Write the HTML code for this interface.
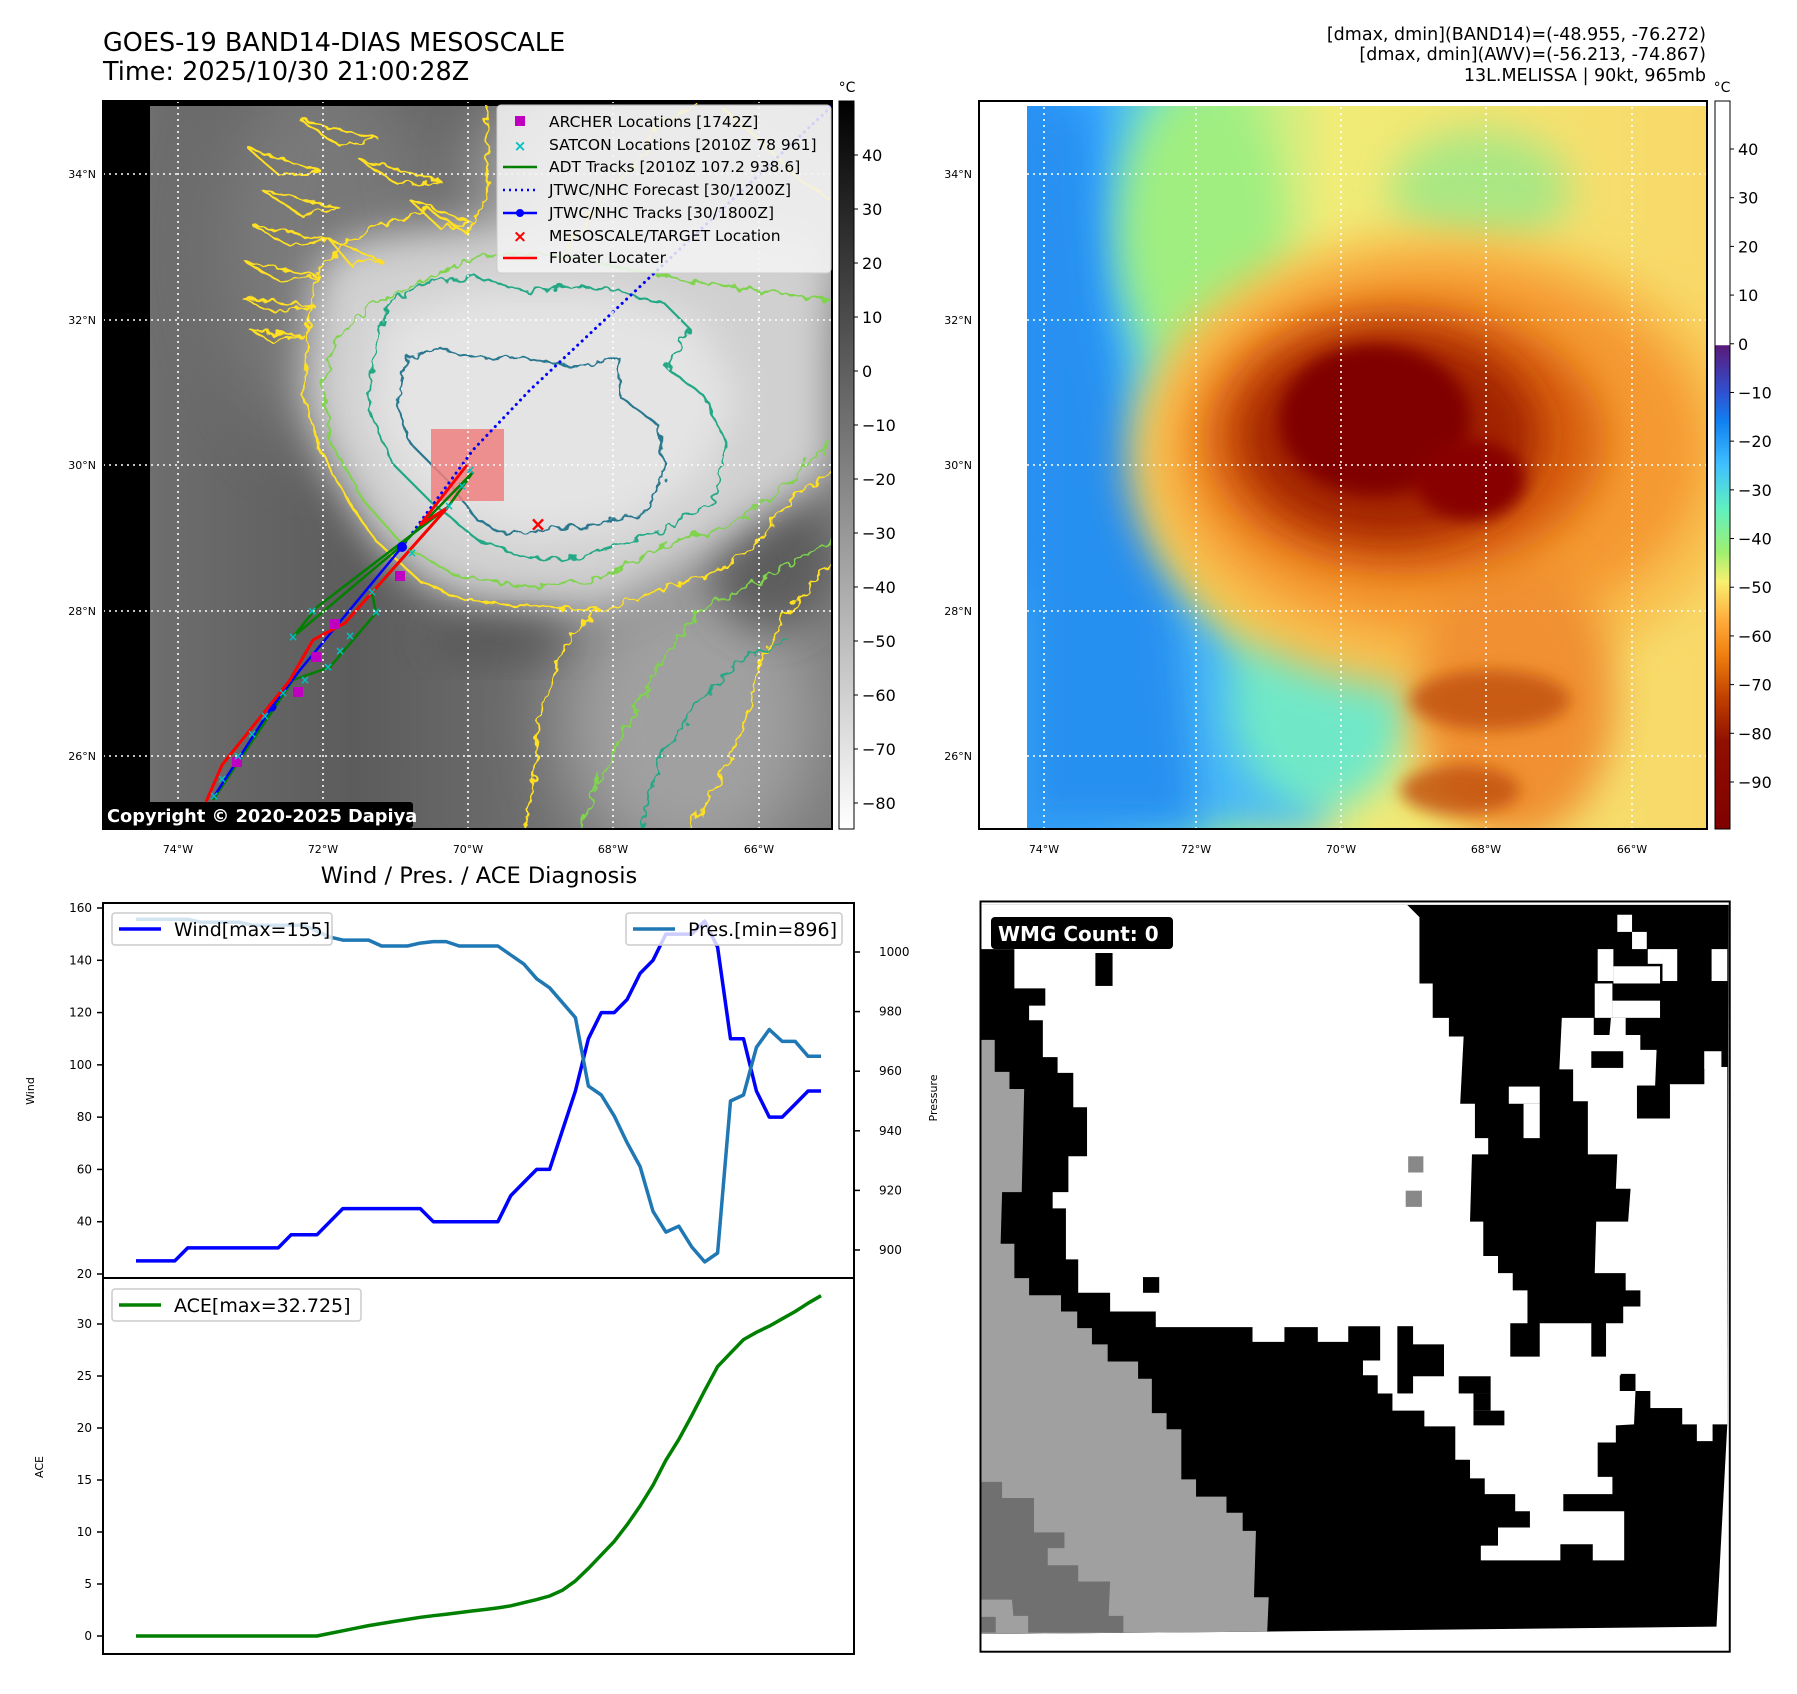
<!DOCTYPE html>
<html><head><meta charset="utf-8">
<style>
html,body{margin:0;padding:0;background:#fff;}
body{width:1797px;height:1690px;position:relative;overflow:hidden;font-family:"DejaVu Sans","Liberation Sans",sans-serif;}
svg text{font-family:"DejaVu Sans","Liberation Sans",sans-serif;}
</style></head><body>
<svg id="root" width="1797" height="1690" viewBox="0 0 1797 1690" xmlns="http://www.w3.org/2000/svg">
<defs>
  <filter id="wig" x="-20%" y="-20%" width="140%" height="140%">
    <feTurbulence type="fractalNoise" baseFrequency="0.09" numOctaves="2" seed="3"/>
    <feDisplacementMap in="SourceGraphic" scale="12"/>
  </filter>
  <filter id="blur8" x="-50%" y="-50%" width="200%" height="200%"><feGaussianBlur stdDeviation="8"/></filter>
  <filter id="blur20" x="-50%" y="-50%" width="200%" height="200%"><feGaussianBlur stdDeviation="20"/></filter>
  <filter id="blur35" x="-80%" y="-80%" width="260%" height="260%"><feGaussianBlur stdDeviation="35"/></filter>
  <filter id="tex" x="0" y="0" width="100%" height="100%">
    <feTurbulence type="fractalNoise" baseFrequency="0.02 0.08" numOctaves="3" seed="7"/>
    <feColorMatrix type="matrix" values="0 0 0 0 0.5  0 0 0 0 0.5  0 0 0 0 0.5  0 0 0 0.25 0"/>
  </filter>
  <linearGradient id="cbGray" x1="0" y1="0" x2="0" y2="1">
    <stop offset="0" stop-color="#000"/><stop offset="1" stop-color="#fff"/>
  </linearGradient>
  <linearGradient id="cbColor" x1="0" y1="101" x2="0" y2="829" gradientUnits="userSpaceOnUse">
    <stop offset="0" stop-color="#fff"/>
    <stop offset="0.335" stop-color="#fff"/>
    <stop offset="0.336" stop-color="#5a1a7a"/>
    <stop offset="0.40" stop-color="#3050d0"/>
    <stop offset="0.44" stop-color="#1080f0"/>
    <stop offset="0.50" stop-color="#40c0ff"/>
    <stop offset="0.56" stop-color="#60f0c0"/>
    <stop offset="0.62" stop-color="#a0f070"/>
    <stop offset="0.66" stop-color="#f8f070"/>
    <stop offset="0.71" stop-color="#ffb040"/>
    <stop offset="0.76" stop-color="#f08010"/>
    <stop offset="0.82" stop-color="#c04000"/>
    <stop offset="0.88" stop-color="#901000"/>
    <stop offset="1" stop-color="#800000"/>
  </linearGradient>
  <linearGradient id="irBase" x1="150" y1="0" x2="832" y2="0" gradientUnits="userSpaceOnUse">
    <stop offset="0" stop-color="#6e6e6e"/><stop offset="0.3" stop-color="#5c5c5c"/>
    <stop offset="0.6" stop-color="#707070"/><stop offset="1" stop-color="#7a7a7a"/>
  </linearGradient>
  <linearGradient id="rightBase" x1="1025" y1="0" x2="1707" y2="0" gradientUnits="userSpaceOnUse">
    <stop offset="0" stop-color="#2a90f8"/>
    <stop offset="0.1" stop-color="#38a8ff"/>
    <stop offset="0.2" stop-color="#70e0d0"/>
    <stop offset="0.3" stop-color="#a8f088"/>
    <stop offset="0.45" stop-color="#f0ec78"/>
    <stop offset="1" stop-color="#f8d868"/>
  </linearGradient>
  <clipPath id="clipL"><rect x="103" y="101" width="729" height="728"/></clipPath>
  <clipPath id="clipL2"><rect x="150" y="106" width="682" height="723"/></clipPath>
  <clipPath id="clipR"><rect x="979" y="101" width="728" height="728"/></clipPath>
  <clipPath id="clipR2"><rect x="1027" y="106" width="680" height="723"/></clipPath>
</defs>

<!-- Titles -->
<text x="103" y="51" font-size="25.5" fill="#000">GOES-19 BAND14-DIAS MESOSCALE</text>
<text x="103" y="80" font-size="25.5" fill="#000">Time: 2025/10/30 21:00:28Z</text>
<g font-size="17.5" text-anchor="end" fill="#000">
  <text x="1706" y="40">[dmax, dmin](BAND14)=(-48.955, -76.272)</text>
  <text x="1706" y="60">[dmax, dmin](AWV)=(-56.213, -74.867)</text>
  <text x="1706" y="81">13L.MELISSA | 90kt, 965mb</text>
</g>

<!-- LEFT MAP -->
<g>
  <g clip-path="url(#clipL)">
    <rect x="103" y="101" width="729" height="728" fill="#000"/>
    <g clip-path="url(#clipL2)">
      <rect x="150" y="106" width="682" height="723" fill="url(#irBase)"/>
      <ellipse cx="330" cy="250" rx="110" ry="200" fill="#8a8a8a" filter="url(#blur35)" opacity="0.6"/>
      <ellipse cx="700" cy="180" rx="220" ry="120" fill="#b4b4b4" filter="url(#blur35)"/>
      <ellipse cx="690" cy="720" rx="130" ry="150" fill="#a0a0a0" filter="url(#blur35)"/>
      <ellipse cx="770" cy="560" rx="60" ry="70" fill="#555" filter="url(#blur20)" opacity="0.8"/>
      <path d="M317,272 L308,329 L303,396 L322,453 L345,496 L374,539 L421,582 L468,601 L525,606 L600,610 L700,560 L790,500 L832,470 L832,240 L760,230 L640,215 L520,220 L420,230 L345,243 Z" fill="#d0d0d0" filter="url(#blur20)"/>
      <path d="M380,320 L370,420 L420,500 L520,540 L620,530 L700,480 L740,400 L700,320 L600,290 L480,290 Z" fill="#e4e4e4" filter="url(#blur20)"/>
      <rect x="150" y="106" width="682" height="723" fill="url(#tex)" opacity="0.8"/>
      <ellipse cx="500" cy="640" rx="70" ry="20" fill="#4a4a4a" filter="url(#blur20)" opacity="0.6"/>
    </g>
    <g fill="none" stroke-width="2.2" filter="url(#wig)">
      <path d="M487,106 L487,195 L468,234 L430,210 L383,224 L345,243 L317,272 L308,329 L303,396 L322,453 L345,496 L374,539 L421,582 L468,601 L525,606 L600,610 L572,634 L553,673 L539,720 L534,777 L525,835" stroke="#ffe020"/>
      <path d="M600,610 L660,590 L720,570 L760,540 L790,500 L832,470" stroke="#ffe020"/>
      <path d="M832,560 L790,610 L760,660 L745,720 L720,780 L690,829" stroke="#ffe020"/>
      <path d="M560,260 L600,200 L640,160 L660,120 L700,106 M720,106 L760,140 L800,180 L832,200" stroke="#ffe020"/>
      <path d="M364,310 L336,339 L322,386 L331,444 L364,501 L402,544 L458,577 L525,587 L591,582 L638,558 L680,539 L723,529 L760,506 L798,472 L831,443" stroke="#7fd34e"/>
      <path d="M364,310 L430,277 L477,257 L525,253 L572,257 L619,267 L690,281 L760,291 L831,300" stroke="#7fd34e"/>
      <path d="M580,829 L600,780 L630,720 L660,660 L700,610 L760,580 L832,540" stroke="#7fd34e"/>
      <path d="M392,300 L374,348 L369,410 L392,463 L430,501 L477,539 L525,558 L572,558 L609,548 L666,529 L713,501 L727,444 L704,396 L666,367 L690,329 L666,305 L619,291 L572,286 L525,291 L477,277 L430,281 Z" stroke="#22a884"/>
      <path d="M407,358 L397,405 L411,444 L449,482 L477,520 L506,534 L553,529 L600,525 L647,510 L666,472 L657,424 L619,396 L619,358 L572,367 L525,358 L477,358 L440,348 Z" stroke="#2a788e"/>
      <path d="M640,829 L660,760 L700,700 L740,660 L790,640" stroke="#22a884"/>
    </g>
    <g fill="none" stroke="#ffe020" stroke-width="2" filter="url(#wig)">
      <path d="M250,150 L320,170 L280,176 Z"/><path d="M262,190 L340,208 L300,214 Z"/>
      <path d="M252,225 L330,240 L290,246 Z"/><path d="M246,262 L320,276 L280,282 Z"/>
      <path d="M242,298 L315,306 L275,312 Z"/><path d="M250,330 L305,336 L270,340 Z"/>
      <path d="M300,120 L380,140 L340,146 Z"/><path d="M360,160 L440,180 L400,186 Z"/>
      <path d="M410,200 L470,222 L440,228 Z"/><path d="M330,240 L380,260 L350,264 Z"/>
    </g>
    <rect x="431" y="429" width="73" height="72" fill="#f08080" opacity="0.85"/>
    <g stroke-dasharray="0.1 6" fill="none" stroke="#00f" stroke-width="3" stroke-linecap="round">
      <path d="M402,547 L473,450 L530,390 L832,106"/>
    </g>
    <path d="M213,800 L293,680 L330,667 L376,613 L372,593 L448,507 L420,525 L448,507 L473,472" fill="none" stroke="#007f00" stroke-width="2.5"/>
    <path d="M293,637 L317,607 L448,507 M293,637 L400,547 L473,472" fill="none" stroke="#007f00" stroke-width="2.5"/>
    <path d="M213,798 L272,707 L300,670 L402,547" fill="none" stroke="#0000ff" stroke-width="2.5"/>
    <circle cx="272" cy="707" r="4.5" fill="#00f"/><circle cx="402" cy="547" r="5" fill="#00f"/>
    <path d="M206,802 L222,765 L290,680 L313,640 L345,623 L447,508 L420,525 L467,465" fill="none" stroke="#ff0000" stroke-width="3"/>
    <g fill="#c000c0">
      <rect x="395" y="571" width="10" height="10"/><rect x="330" y="619" width="10" height="10"/>
      <rect x="311" y="652" width="10" height="10"/><rect x="293" y="687" width="10" height="10"/>
      <rect x="232" y="757" width="10" height="10"/>
    </g>
    <g fill="#00c0c0" font-size="12" text-anchor="middle" font-weight="bold">
      <text x="293" y="641">×</text><text x="312" y="615">×</text><text x="376" y="616">×</text>
      <text x="372" y="596">×</text><text x="350" y="640">×</text><text x="340" y="655">×</text>
      <text x="328" y="671">×</text><text x="305" y="684">×</text><text x="283" y="697">×</text>
      <text x="265" y="720">×</text><text x="252" y="738">×</text><text x="238" y="760">×</text>
      <text x="222" y="783">×</text><text x="214" y="800">×</text><text x="412" y="557">×</text>
      <text x="470" y="474">×</text><text x="462" y="490">×</text><text x="449" y="510">×</text>
    </g>
    <text x="538" y="531" font-size="20" font-weight="bold" fill="#ff0000" text-anchor="middle">×</text>
    <g stroke="#fff" stroke-width="1.6" stroke-dasharray="2 4">
      <line x1="178" y1="101" x2="178" y2="829"/><line x1="323" y1="101" x2="323" y2="829"/>
      <line x1="468" y1="101" x2="468" y2="829"/><line x1="613" y1="101" x2="613" y2="829"/>
      <line x1="759" y1="101" x2="759" y2="829"/>
      <line x1="103" y1="174" x2="832" y2="174"/><line x1="103" y1="320" x2="832" y2="320"/>
      <line x1="103" y1="465" x2="832" y2="465"/><line x1="103" y1="611" x2="832" y2="611"/>
      <line x1="103" y1="756" x2="832" y2="756"/>
    </g>
  </g>
  <rect x="103" y="101" width="729" height="728" fill="none" stroke="#000" stroke-width="2"/>
  <g>
    <rect x="497" y="105" width="334" height="168" rx="4" fill="#f4f4f4" fill-opacity="0.85" stroke="#ccc"/>
    <g font-size="15.5" fill="#000">
      <rect x="515" y="116" width="10" height="10" fill="#c000c0"/>
      <text x="549" y="127">ARCHER Locations [1742Z]</text>
      <text x="520" y="151" fill="#00c0c0" font-weight="bold" text-anchor="middle" font-size="15">×</text>
      <text x="549" y="150">SATCON Locations [2010Z 78 961]</text>
      <line x1="503" y1="167" x2="537" y2="167" stroke="#007f00" stroke-width="2.5"/>
      <text x="549" y="172">ADT Tracks [2010Z 107.2 938.6]</text>
      <line x1="503" y1="190" x2="537" y2="190" stroke="#00f" stroke-width="2.5" stroke-dasharray="2 4"/>
      <text x="549" y="195">JTWC/NHC Forecast [30/1200Z]</text>
      <line x1="503" y1="213" x2="537" y2="213" stroke="#00f" stroke-width="2.5"/>
      <circle cx="520" cy="213" r="4" fill="#00f"/>
      <text x="549" y="218">JTWC/NHC Tracks [30/1800Z]</text>
      <text x="520" y="242" fill="#f00" font-weight="bold" text-anchor="middle" font-size="17">×</text>
      <text x="549" y="241">MESOSCALE/TARGET Location</text>
      <line x1="503" y1="258" x2="537" y2="258" stroke="#f00" stroke-width="2.5"/>
      <text x="549" y="263">Floater Locater</text>
    </g>
  </g>
  <rect x="103" y="802" width="310" height="26" rx="3" fill="#000"/>
  <text x="107" y="822" font-size="17.8" font-weight="bold" fill="#fff">Copyright © 2020-2025 Dapiya</text>
</g>
<g font-size="11" fill="#000" text-anchor="end">
  <text x="96" y="178">34°N</text><text x="96" y="324">32°N</text><text x="96" y="469">30°N</text><text x="96" y="615">28°N</text><text x="96" y="760">26°N</text>
</g>
<g font-size="11" fill="#000" text-anchor="middle">
  <text x="178" y="853">74°W</text><text x="323" y="853">72°W</text><text x="468" y="853">70°W</text><text x="613" y="853">68°W</text><text x="759" y="853">66°W</text>
</g>
<g>
  <rect x="839" y="101" width="15" height="728" fill="url(#cbGray)" stroke="#000" stroke-width="1"/>
  <text x="847" y="92" font-size="14" text-anchor="middle">°C</text>
  <g font-size="16" fill="#000" id="cb1"></g>
</g>

<!-- RIGHT MAP -->
<g>
  <g clip-path="url(#clipR)">
    <rect x="979" y="101" width="728" height="728" fill="#fff"/>
    <g clip-path="url(#clipR2)">
      <rect x="1027" y="106" width="680" height="723" fill="url(#rightBase)"/>
      <path d="M1020,600 L1120,560 L1200,600 L1260,660 L1300,720 L1330,829 L1020,829 Z" fill="#48b8f8" filter="url(#blur20)"/>
      <path d="M1020,106 L1085,106 L1100,300 L1140,480 L1180,600 L1200,829 L1020,829 Z" fill="#2890f0" filter="url(#blur20)"/>
      <ellipse cx="1320" cy="700" rx="90" ry="110" fill="#70e8c8" filter="url(#blur20)"/>
      <ellipse cx="1200" cy="230" rx="80" ry="140" fill="#a0ee80" filter="url(#blur20)"/>
      <ellipse cx="1480" cy="190" rx="90" ry="60" fill="#98e888" filter="url(#blur20)" opacity="0.8"/>
      <ellipse cx="1440" cy="460" rx="310" ry="230" fill="#f8c050" filter="url(#blur20)"/>
      <ellipse cx="1440" cy="450" rx="265" ry="185" fill="#f59a30" filter="url(#blur20)"/>
      <ellipse cx="1515" cy="700" rx="100" ry="140" fill="#f09030" filter="url(#blur20)"/>
      <ellipse cx="1405" cy="440" rx="200" ry="135" fill="#d86008" filter="url(#blur20)"/>
      <ellipse cx="1390" cy="435" rx="150" ry="105" fill="#a02000" filter="url(#blur20)"/>
      <ellipse cx="1375" cy="420" rx="95" ry="75" fill="#800000" filter="url(#blur8)"/>
      <ellipse cx="1470" cy="480" rx="55" ry="40" fill="#880400" filter="url(#blur8)"/>
      <ellipse cx="1490" cy="700" rx="80" ry="30" fill="#c05010" filter="url(#blur8)" opacity="0.8"/>
      <ellipse cx="1460" cy="790" rx="60" ry="25" fill="#c05010" filter="url(#blur8)" opacity="0.8"/>
      <rect x="1027" y="106" width="680" height="723" fill="url(#tex)" opacity="0.35"/>
    </g>
    <g stroke="#fff" stroke-width="1.6" stroke-dasharray="2 4">
      <line x1="1044" y1="101" x2="1044" y2="829"/><line x1="1196" y1="101" x2="1196" y2="829"/>
      <line x1="1341" y1="101" x2="1341" y2="829"/><line x1="1486" y1="101" x2="1486" y2="829"/>
      <line x1="1632" y1="101" x2="1632" y2="829"/>
      <line x1="979" y1="174" x2="1707" y2="174"/><line x1="979" y1="320" x2="1707" y2="320"/>
      <line x1="979" y1="465" x2="1707" y2="465"/><line x1="979" y1="611" x2="1707" y2="611"/>
      <line x1="979" y1="756" x2="1707" y2="756"/>
    </g>
  </g>
  <rect x="979" y="101" width="728" height="728" fill="none" stroke="#000" stroke-width="2"/>
</g>
<g font-size="11" fill="#000" text-anchor="end">
  <text x="972" y="178">34°N</text><text x="972" y="324">32°N</text><text x="972" y="469">30°N</text><text x="972" y="615">28°N</text><text x="972" y="760">26°N</text>
</g>
<g font-size="11" fill="#000" text-anchor="middle">
  <text x="1044" y="853">74°W</text><text x="1196" y="853">72°W</text><text x="1341" y="853">70°W</text><text x="1486" y="853">68°W</text><text x="1632" y="853">66°W</text>
</g>
<g>
  <rect x="1715" y="101" width="15" height="728" fill="url(#cbColor)" stroke="#000" stroke-width="1"/>
  <text x="1722" y="92" font-size="14" text-anchor="middle">°C</text>
  <g font-size="16" fill="#000" id="cb2"></g>
</g>

<!-- LOWER CHART -->
<text x="479" y="883" font-size="22.5" text-anchor="middle">Wind / Pres. / ACE Diagnosis</text>
<g id="chart"></g>

<!-- WMG PANEL -->
<g>
  <g transform="translate(980,900) scale(0.491)">
    <rect x="0" y="0" width="1528" height="1532" fill="#fff"/>
    <polygon points="0,10 1525,10 1522,1068 1500,1480 585,1490 0,1495" fill="#000"/>
    <polygon fill="#fff" points="0,10 870,10 895,35 895,170 922,170 922,240 955,240 955,278 985,278 978,415 1008,415 1008,485 1035,485 1035,518 1002,518 998,655 1025,655 1025,725 1055,725 1055,760 1085,760 1085,795 1115,795 1115,862 1080,862 1080,930 1140,930 1140,862 1245,862 1245,930 1275,930 1275,862 1310,862 1310,828 1345,828 1345,795 1315,795 1315,760 1252,760 1255,655 1320,655 1325,588 1295,588 1298,518 1238,518 1238,410 1208,410 1208,345 1180,345 1185,240 1250,240 1250,275 1282,275 1285,240 1315,240 1315,275 1345,275 1345,305 1378,305 1375,378 1340,378 1338,445 1405,445 1405,375 1475,375 1475,340 1522,340 1522,1068 1492,1068 1492,1102 1460,1102 1460,1068 1430,1068 1430,1035 1365,1035 1365,1000 1335,1000 1335,965 1305,965 1305,1000 1335,1000 1332,1068 1295,1070 1295,1105 1258,1105 1258,1175 1288,1175 1288,1210 1188,1210 1188,1245 1312,1245 1312,1345 1248,1345 1248,1312 1182,1312 1182,1345 1020,1345 1020,1315 1055,1315 1055,1278 1120,1278 1120,1245 1090,1245 1090,1210 1028,1210 1028,1178 998,1178 998,1140 968,1140 968,1072 905,1072 905,1040 840,1040 840,1005 810,1005 810,968 780,968 780,938 815,938 815,868 750,868 750,900 688,900 688,870 620,870 620,900 555,900 555,870 358,870 358,838 265,838 265,800 200,800 200,732 175,732 175,628 148,628 148,595 180,595 180,522 218,522 218,422 190,422 190,352 158,352 158,320 128,320 128,245 100,245 100,215 133,215 133,180 70,180 70,100 0,100"/>
    <g fill="#000">
      <rect x="235" y="108" width="35" height="67"/><rect x="332" y="768" width="33" height="32"/>
      <rect x="1245" y="308" width="65" height="34"/><rect x="850" y="868" width="32" height="137"/>
      <rect x="880" y="905" width="65" height="65"/><rect x="975" y="970" width="65" height="35"/>
      <rect x="1005" y="1005" width="35" height="35"/><rect x="1005" y="1040" width="63" height="30"/>
      <rect x="1303" y="968" width="32" height="32"/><rect x="1338" y="1000" width="27" height="68"/>
      <rect x="1365" y="1035" width="65" height="35"/><rect x="1338" y="378" width="67" height="67"/>
      <rect x="1330" y="130" width="30" height="35"/><rect x="1420" y="135" width="70" height="30"/>
      <rect x="1385" y="170" width="130" height="70"/><rect x="1345" y="240" width="130" height="65"/>
      <rect x="1378" y="305" width="97" height="70"/><rect x="1290" y="100" width="40" height="35"/>
    </g>
    <g fill="#fff">
      <rect x="1077" y="380" width="63" height="35"/><rect x="1107" y="415" width="33" height="70"/>
      <rect x="1298" y="30" width="30" height="35"/><rect x="1328" y="65" width="30" height="35"/>
      <rect x="1258" y="100" width="32" height="65"/><rect x="1360" y="100" width="30" height="30"/>
      <rect x="1390" y="100" width="30" height="65"/><rect x="1490" y="100" width="32" height="65"/>
      <rect x="1290" y="135" width="95" height="35"/><rect x="1252" y="170" width="36" height="70"/>
      <rect x="1288" y="205" width="97" height="35"/><rect x="1475" y="308" width="35" height="35"/>
    </g>
    <polygon fill="#a0a0a0" points="0,285 30,285 30,350 60,350 60,385 90,385 85,595 45,595 42,700 70,700 70,770 100,770 100,805 165,805 165,838 198,838 198,872 228,872 228,905 260,905 260,940 322,940 322,975 350,975 350,1045 380,1045 380,1078 410,1078 410,1180 440,1180 440,1215 502,1215 502,1248 535,1248 535,1285 562,1285 558,1420 588,1420 585,1490 0,1495"/>
    <polygon fill="#707070" points="0,1185 45,1185 45,1218 110,1218 110,1288 172,1288 172,1320 138,1320 138,1355 200,1355 200,1388 265,1388 262,1458 292,1458 292,1492 98,1492 98,1458 68,1458 65,1425 0,1425"/>
    <rect x="0" y="1460" width="32" height="32" fill="#707070"/>
    <rect x="872" y="522" width="31" height="33" fill="#888"/><rect x="867" y="592" width="33" height="33" fill="#888"/>
    <rect x="1" y="3" width="1526" height="1528" fill="none" stroke="#000" stroke-width="4"/>
  </g>
  <rect x="991" y="917" width="182" height="32" rx="4" fill="#000"/>
  <text x="998" y="941" font-size="20" font-weight="bold" fill="#fff">WMG Count: 0</text>
</g>
</svg>

<script>
// ---- Diagnosis chart data ----
const windValues = [25,25,25,25,30,30,30,30,30,30,30,30,35,35,35,40,45,45,45,45,45,45,45,40,40,40,40,40,40,50,55,60,60,75,90,110,120,120,125,135,140,150,150,150,155,145,110,110,90,80,80,85,90,90];
const presValues = [1011,1011,1011,1011,1011,1010,1010,1010,1010,1009,1009,1009,1009,1009,1007,1005,1004,1004,1004,1002,1002,1002,1003,1003.5,1003.5,1002,1002,1002,1002,999,996,991,988,983,978,955,952,945,936,928,913,906,908,901,896,899,950,952,968,974,970,970,965,965];
const aceValues = [0,0,0,0,0,0,0,0,0,0,0,0,0,0,0,0.25,0.5,0.75,1.0,1.2,1.4,1.6,1.8,1.95,2.1,2.25,2.4,2.55,2.7,2.9,3.2,3.5,3.85,4.4,5.3,6.5,7.8,9.1,10.7,12.5,14.5,16.9,18.9,21.2,23.6,25.9,27.2,28.5,29.2,29.8,30.5,31.2,32.0,32.725];
const windTicks = [20,40,60,80,100,120,140,160];
const presTicks = [900,920,940,960,980,1000];
const aceTicks = [0,5,10,15,20,25,30];
const cbGrayTicks = [40,30,20,10,0,-10,-20,-30,-40,-50,-60,-70,-80];
const cbColorTicks = [40,30,20,10,0,-10,-20,-30,-40,-50,-60,-70,-80,-90];

const NS = 'http://www.w3.org/2000/svg';
function mk(tag, attrs, parent){ const e=document.createElementNS(NS,tag); for(const k in attrs) e.setAttribute(k,attrs[k]); parent.appendChild(e); return e; }

const L=103,R=854,T=903,M=1278,B=1654;
const n = windValues.length;
const xS = i => 136 + i*(821-136)/(n-1);
const yWind = v => 908 + (160-v)*(1274-908)/140;
const yPres = v => 952 + (1000-v)*(1250-952)/100;
const yAce = v => 1636 - v*(1636-1324)/30;

const chart = document.getElementById('chart');
const f1 = mk('rect',{x:L,y:T,width:R-L,height:M-T,fill:'none',stroke:'#000','stroke-width':2},chart);


const f2 = mk('rect',{x:L,y:M,width:R-L,height:B-M,fill:'none',stroke:'#000','stroke-width':2},chart);



function tickL(y,label,parent){
  mk('line',{x1:L-6,y1:y,x2:L,y2:y,stroke:'#000','stroke-width':1.5},parent);
  const t=mk('text',{x:L-11,y:y+4,'font-size':12,'text-anchor':'end',fill:'#000'},parent); t.textContent=label;
}
const gW = mk('g',{},chart);


windTicks.forEach(v=>tickL(yWind(v),v,gW));
const gP = mk('g',{},chart);


presTicks.forEach(v=>{const y=yPres(v); mk('line',{x1:R,y1:y,x2:R+6,y2:y,stroke:'#000','stroke-width':1.5},gP); const t=mk('text',{x:R+25,y:y+4,'font-size':12,fill:'#000'},gP); t.textContent=v;});
const gA = mk('g',{},chart);


aceTicks.forEach(v=>tickL(yAce(v),v,gA));

function ttl(x,y,s,name){const t=mk('text',{x:x,y:y,'font-size':11,'text-anchor':'middle',transform:`rotate(-90 ${x} ${y})`,fill:'#000'},chart); t.textContent=s;
  
  }
ttl(34,1091,'Wind','wind-axis-title'); ttl(937,1098,'Pressure','pressure-axis-title'); ttl(43,1467,'ACE','ace-axis-title');

function pathOf(arr,yf){return arr.map((v,i)=>(i?'L':'M')+xS(i).toFixed(1)+','+yf(v).toFixed(1)).join(' ');}
const pW = mk('path',{d:pathOf(windValues,yWind),fill:'none',stroke:'#0000ff','stroke-width':3.5,'stroke-linejoin':'round'},chart);


const pP = mk('path',{d:pathOf(presValues,yPres),fill:'none',stroke:'#1f77b4','stroke-width':3.5,'stroke-linejoin':'round'},chart);


const pA = mk('path',{d:pathOf(aceValues,yAce),fill:'none',stroke:'#008000','stroke-width':3.5,'stroke-linejoin':'round'},chart);



function legend(x,y,w,color,label,name){
  const g=mk('g',{},chart);
  
  
  mk('rect',{x:x,y:y,width:w,height:32,rx:3,fill:'#fff','fill-opacity':0.8,stroke:'#ccc','stroke-width':1.5},g);
  mk('line',{x1:x+7,y1:y+16,x2:x+49,y2:y+16,stroke:color,'stroke-width':3.5},g);
  const t=mk('text',{x:x+62,y:y+23,'font-size':19,fill:'#000'},g); t.textContent=label;
}
legend(112,913,220,'#0000ff','Wind[max='+Math.max(...windValues)+']','wind-legend');
legend(626,913,216,'#1f77b4','Pres.[min='+Math.min(...presValues)+']','pressure-legend');
legend(112,1289,249,'#008000','ACE[max='+Math.max(...aceValues)+']','ace-legend');

const cb1=document.getElementById('cb1');
cbGrayTicks.forEach(v=>{const y=155+(40-v)*(803-155)/120; mk('line',{x1:854,y1:y,x2:858,y2:y,stroke:'#000'},cb1); const t=mk('text',{x:862,y:y+6,'font-size':16,fill:'#000'},cb1); t.textContent=(v<0?'\u2212'+(-v):v);});
const cb2=document.getElementById('cb2');
cbColorTicks.forEach(v=>{const y=149+(40-v)*(782-149)/130; mk('line',{x1:1730,y1:y,x2:1734,y2:y,stroke:'#000'},cb2); const t=mk('text',{x:1738,y:y+6,'font-size':16,fill:'#000'},cb2); t.textContent=(v<0?'\u2212'+(-v):v);});
</script>
</body></html>
